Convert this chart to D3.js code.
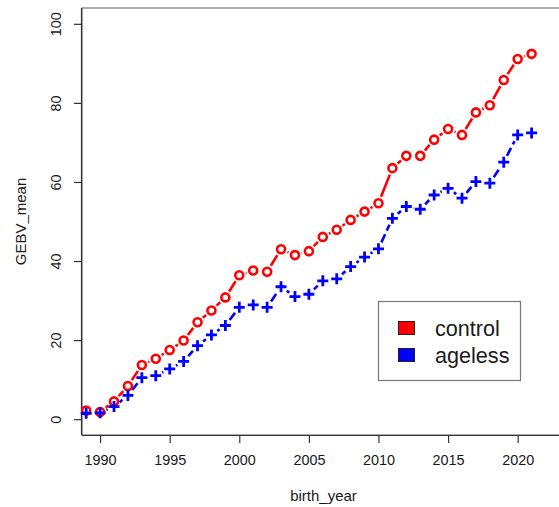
<!DOCTYPE html>
<html>
<head>
<meta charset="utf-8">
<script src="https://cdn.jsdelivr.net/npm/d3@7"></script>
<style>
  html, body { margin: 0; padding: 0; background: #fff; }
  svg { display: block; font-family: "Liberation Sans", Arial, sans-serif; }
</style>
</head>
<body>
<svg id="chart" width="559" height="507"></svg>
<script>
const years = [1989,1990,1991,1992,1993,1994,1995,1996,1997,1998,1999,2000,2001,2002,2003,2004,2005,2006,2007,2008,2009,2010,2011,2012,2013,2014,2015,2016,2017,2018,2019,2020,2021];
const control = [2.2,1.8,4.5,8.4,13.7,15.3,17.5,19.9,24.5,27.5,30.8,36.4,37.6,37.3,43.0,41.5,42.5,46.1,47.9,50.4,52.5,54.6,63.5,66.6,66.6,70.7,73.4,71.9,77.6,79.4,85.8,91.1,92.4];
const ageless = [1.5,1.6,3.2,6.0,10.5,11.0,12.7,14.6,18.6,21.3,23.7,28.3,28.9,28.3,33.5,31.0,31.6,35.0,35.5,38.6,41.0,43.1,50.8,53.8,53.1,56.7,58.4,55.9,60.1,59.7,65.0,71.9,72.4];
const xTicks = [1990,1995,2000,2005,2010,2015,2020];
const yTicks = [0,20,40,60,80,100];
const seriesNames = ["control","ageless"];
const seriesColors = ["#ff0000","#0000ff"];

const svg = d3.select("#chart");
const pL = 82, pR = 565, pT = 8, pB = 435;
const x = d3.scaleLinear().domain([1988.7, 2023.4]).range([pL, pR]);
const y = d3.scaleLinear().domain([-4, 104]).range([pB, pT]);

// frame
svg.append("rect").attr("x", pL).attr("y", pT).attr("width", pR-pL).attr("height", pB-pT)
  .attr("fill", "none").attr("stroke", "#777").attr("stroke-width", 1.2);

// axes
const xAxis = d3.axisBottom(x).tickValues(xTicks).tickSize(8).tickPadding(12).tickFormat(d3.format("d"));
const gx = svg.append("g").attr("transform", `translate(0,${pB})`).call(xAxis);
gx.select(".domain").attr("d", `M${pL},0.5H${pR}`).attr("stroke", "#333").attr("stroke-width", 1.2);
gx.selectAll(".tick line").attr("stroke", "#333").attr("stroke-width", 1.2);
gx.selectAll(".tick text").attr("font-size", "14.4px").attr("fill", "#1a1a1a").attr("font-family", "Liberation Sans, Arial, sans-serif");

const yAxis = d3.axisLeft(y).tickValues(yTicks).tickSize(8).tickPadding(0);
const gy = svg.append("g").attr("transform", `translate(${pL},0)`).call(yAxis);
gy.select(".domain").attr("d", `M-0.5,${pT}V${pB}`).attr("stroke", "#333").attr("stroke-width", 1.2);
gy.selectAll(".tick line").attr("stroke", "#333").attr("stroke-width", 1.2);
gy.selectAll(".tick text")
  .attr("font-size", "14.4px").attr("fill", "#1a1a1a").attr("font-family", "Liberation Sans, Arial, sans-serif")
  .attr("x", null).attr("dy", null)
  .attr("text-anchor", "middle")
  .attr("transform", "translate(-21,0) rotate(-90)");

// axis titles
svg.append("text").attr("x", (pL+pR)/2).attr("y", 501).attr("text-anchor", "middle")
  .attr("font-size", "15px").attr("fill", "#1a1a1a").text("birth_year");
svg.append("text").attr("transform", `translate(26,${(pT+pB)/2}) rotate(-90)`).attr("text-anchor", "middle")
  .attr("font-size", "15px").attr("fill", "#1a1a1a").text("GEBV_mean");

// type="b" lines with gaps
function drawSeries(vals, color, dash) {
  const pts = years.map((yr, i) => [x(yr), y(vals[i])]);
  const gap = 7;
  const segs = [];
  for (let i = 0; i < pts.length - 1; i++) {
    const [x0, y0] = pts[i], [x1, y1] = pts[i+1];
    const dx = x1 - x0, dy = y1 - y0, L = Math.hypot(dx, dy);
    if (L > 2*gap) {
      const ux = dx / L, uy = dy / L;
      segs.push([x0 + ux*gap, y0 + uy*gap, x1 - ux*gap, y1 - uy*gap]);
    }
  }
  svg.append("g").selectAll("line").data(segs).join("line")
    .attr("x1", d => d[0]).attr("y1", d => d[1]).attr("x2", d => d[2]).attr("y2", d => d[3])
    .attr("stroke", color).attr("stroke-width", 2.6).attr("stroke-dasharray", dash);
}
drawSeries(control, seriesColors[0], null);
drawSeries(ageless, seriesColors[1], "9,4");

svg.append("g").selectAll("circle").data(years).join("circle")
  .attr("cx", d => x(d)).attr("cy", (d, i) => y(control[i])).attr("r", 4)
  .attr("fill", "none").attr("stroke", seriesColors[0]).attr("stroke-width", 2.6);

svg.append("g").selectAll("path").data(years).join("path")
  .attr("transform", (d, i) => `translate(${x(d)},${y(ageless[i])})`)
  .attr("d", "M-5.5,0H5.5M0,-5.5V5.5")
  .attr("fill", "none").attr("stroke", seriesColors[1]).attr("stroke-width", 2.8);

// legend
const lg = svg.append("g");
lg.append("rect").attr("x", 378.5).attr("y", 301.5).attr("width", 142).attr("height", 79)
  .attr("fill", "#fff").attr("stroke", "#777").attr("stroke-width", 1.2);
seriesNames.forEach((name, i) => {
  lg.append("rect").attr("x", 398.5).attr("y", 321.5 + i*27).attr("width", 16).attr("height", 13)
    .attr("fill", seriesColors[i]).attr("stroke", "#222").attr("stroke-width", 1);
  lg.append("text").attr("x", 435).attr("y", 335.5 + i*27).attr("font-size", "21.6px")
    .attr("fill", "#1a1a1a").text(name);
});
</script>
</body>
</html>
